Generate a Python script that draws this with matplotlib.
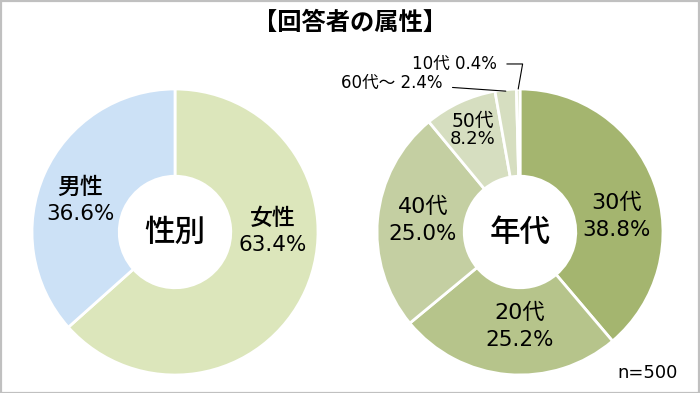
import numpy as np
import matplotlib.pyplot as plt
from matplotlib.patches import Rectangle

plt.rcParams['font.family'] = ['DejaVu Sans', 'Noto Sans CJK JP']

title = '【回答者の属性】'

sex_labels = ['女性', '男性']
sex_values = [63.4, 36.6]
sex_colors = ['#dce6bb', '#cce1f6']

age_labels = ['30代', '20代', '40代', '50代', '60代～', '10代']
age_values = [38.8, 25.2, 25.0, 8.2, 2.4, 0.4]
age_colors = ['#a4b56f', '#b6c48b', '#c4cfa2', '#d6dec0', '#d6dec0', '#d6dec0']

W, H = 700, 393
fig = plt.figure(figsize=(W / 100, H / 100), dpi=100)
fig.patch.set_facecolor('white')
fig.add_artist(Rectangle((0.5 / W, 0.5 / H), 1 - 1.5 / W, 1 - 1.5 / H, transform=fig.transFigure,
                         fill=False, edgecolor='#c0c0c0', linewidth=1.6))


def donut_axes(cx, cy, r):
    ax = fig.add_axes([(cx - r) / W, (H - cy - r) / H, 2 * r / W, 2 * r / H])
    ax.set_xlim(-1, 1)
    ax.set_ylim(-1, 1)
    ax.set_aspect('equal')
    ax.axis('off')
    return ax


wp = dict(width=0.61, edgecolor='white', linewidth=2)

# left: gender
ax1 = donut_axes(175, 232, 143)
ax1.pie(sex_values, colors=sex_colors, startangle=90, counterclock=False, radius=1, wedgeprops=wp)
ax1.set_xlim(-1, 1)
ax1.set_ylim(-1, 1)
sex_pos = [(0.685, 0.098), (-0.664, 0.315)]
for lab, v, (x, y) in zip(sex_labels, sex_values, sex_pos):
    ax1.text(x, y, lab, ha='center', va='center', fontsize=16.5, fontweight='medium')
    ax1.text(x, y - 0.19, f'{v:.1f}%', ha='center', va='center', fontsize=15.5)
ax1.text(0, 0, '性別', ha='center', va='center', fontsize=22, fontweight='medium')

# right: age
ax2 = donut_axes(520, 232, 143)
wedges, _ = ax2.pie(age_values, colors=age_colors, startangle=90, counterclock=False, radius=1, wedgeprops=wp)
ax2.set_xlim(-1, 1)
ax2.set_ylim(-1, 1)
age_pos = [(0.678, 0.203, 0.19, 16, 15.5), (0.0, -0.566, 0.19, 16, 15.5),
           (-0.678, 0.175, 0.19, 16, 15.5), (-0.33, 0.77, 0.12, 13.5, 13)]
for lab, v, (x, y, gap, fs1, fs2) in zip(age_labels, age_values, age_pos):
    ax2.text(x, y, lab, ha='center', va='center', fontsize=fs1)
    ax2.text(x, y - gap, f'{v:.1f}%', ha='center', va='center', fontsize=fs2)
ax2.text(0, 0, '年代', ha='center', va='center', fontsize=22, fontweight='medium')

# small slices with leader lines
w60, w10 = wedges[4], wedges[5]
a60 = np.deg2rad((w60.theta1 + w60.theta2) / 2)
a10 = np.deg2rad((w10.theta1 + w10.theta2) / 2)
ax2.annotate(f'{age_labels[4]} {age_values[4]:.1f}%', xy=(np.cos(a60) * 0.99, np.sin(a60) * 0.99),
             xytext=(-0.54, 1.04), ha='right', va='center', fontsize=12,
             arrowprops=dict(arrowstyle='-', color='black', lw=0.8, shrinkA=5, shrinkB=0))
ax2.annotate(f'{age_labels[5]} {age_values[5]:.1f}%', xy=(np.cos(a10) * 1.0, np.sin(a10) * 1.0),
             xytext=(-0.16, 1.175), ha='right', va='center', fontsize=12,
             arrowprops=dict(arrowstyle='-', color='black', lw=0.8, shrinkA=5, shrinkB=0,
                             connectionstyle='angle,angleA=0,angleB=80,rad=0'))

fig.text(350 / W, 1 - 23 / H, title, ha='center', va='center', fontsize=17.5, fontweight='bold')
fig.text(678 / W, 1 - 373 / H, 'n=500', ha='right', va='center', fontsize=13)

fig.savefig('out.png', dpi=100)
